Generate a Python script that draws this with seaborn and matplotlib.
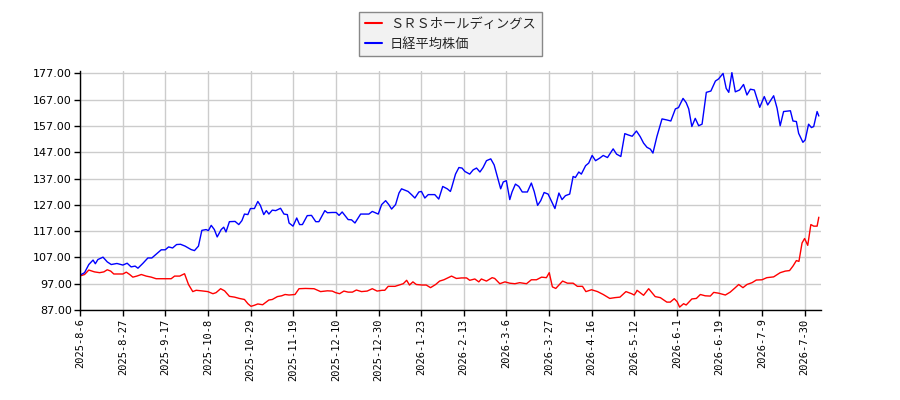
import matplotlib
matplotlib.use("Agg")
import matplotlib.pyplot as plt
import seaborn as sns
import numpy as np

# ── DATA (trading-day index → value, rebased to 100) ─────────
tick_labels = ["2025-8-6", "2025-8-27", "2025-9-17", "2025-10-8", "2025-10-29",
               "2025-11-19", "2025-12-10", "2025-12-30", "2026-1-23", "2026-2-13",
               "2026-3-6", "2026-3-27", "2026-4-16", "2026-5-12", "2026-6-1",
               "2026-6-19", "2026-7-9", "2026-7-30"]
tick_days = list(range(0, 260, 15))

srs_day = [0, 1.5, 3.0, 5.0, 6.8, 8.3, 9.5, 10.7, 11.8, 15.0, 16.2, 17.4, 18.5, 19.9,
           21.5, 23.2, 25.0, 26.7, 29.9, 32.0, 33.2, 35.0, 36.7, 38.1, 39.6, 40.8,
           42.6, 44.9, 46.7, 47.8, 49.4, 50.8, 52.5, 54.3, 56.0, 57.8, 59.0, 60.1,
           61.3, 62.5, 64.2, 65.4, 66.4, 67.6, 69.4, 70.9, 72.1, 73.5, 75.6, 77.0,
           79.3, 82.3, 84.6, 87.0, 88.7, 89.9, 91.3, 92.8, 94.3, 95.8, 97.2, 99.0,
           101.0, 102.8, 104.5, 106.3, 107.2, 108.4, 110.8, 112.2, 113.7, 114.9,
           115.9, 117.1, 118.3, 120.4, 121.8, 123.3, 125.1, 126.5, 128.0, 129.5,
           130.7, 132.4, 134.2, 136.0, 137.1, 138.9, 140.3, 141.2, 143.0, 145.0,
           145.9, 147.7, 149.5, 151.2, 153.0, 154.7, 157.1, 158.8, 160.6, 162.4,
           164.1, 165.1, 166.2, 167.4, 169.8, 171.5, 173.5, 175.0, 176.8, 178.0,
           180.0, 182.1, 184.1, 186.4, 188.2, 190.0, 192.1, 194.1, 195.0, 195.8,
           196.0, 198.3, 200.1, 202.4, 204.2, 206.5, 207.7, 209.1, 210.1, 211.0,
           212.4, 213.3, 215.3, 216.9, 218.3, 220.0, 221.8, 223.0, 224.7, 227.1,
           228.8, 230.6, 231.8, 233.3, 234.7, 236.5, 238.0, 240.0, 241.7, 244.1,
           246.4, 248.2, 249.7, 250.9, 252.1, 253.0, 254.1, 255.0, 256.1, 257.2,
           258.2, 259.4, 260.0]
srs_val = [100.0, 100.5, 102.2, 101.5, 101.2, 101.5, 102.3, 101.8, 100.7, 100.7, 101.4,
           100.5, 99.5, 99.9, 100.5, 99.9, 99.5, 98.9, 98.9, 98.9, 99.9, 99.9, 100.8,
           96.7, 94.0, 94.5, 94.3, 94.0, 93.2, 93.6, 95.1, 94.3, 92.2, 91.9, 91.4,
           91.0, 89.4, 88.4, 88.8, 89.3, 89.0, 90.0, 90.8, 91.0, 92.1, 92.4, 92.9,
           92.7, 92.9, 95.1, 95.2, 95.1, 94.0, 94.3, 94.2, 93.6, 93.2, 94.2, 93.8,
           93.8, 94.6, 94.0, 94.2, 95.1, 94.2, 94.5, 94.5, 96.0, 96.0, 96.5, 97.0,
           98.3, 96.5, 97.7, 96.7, 96.5, 96.5, 95.5, 96.7, 98.0, 98.5, 99.3, 99.9,
           99.0, 99.2, 99.2, 98.3, 98.8, 97.7, 98.8, 98.0, 99.3, 99.0, 97.0, 97.7,
           97.2, 97.0, 97.4, 97.0, 98.5, 98.5, 99.5, 99.3, 101.2, 95.8, 95.2, 98.0,
           97.2, 97.2, 96.0, 96.0, 94.0, 94.7, 94.0, 92.9, 91.4, 91.7, 91.9, 94.0,
           93.2, 92.7, 94.0, 94.5, 92.6, 95.1, 92.1, 91.7, 90.0, 90.0, 91.3, 90.2,
           88.1, 89.4, 88.9, 91.2, 91.4, 92.9, 92.4, 92.3, 93.7, 93.4, 92.7, 93.8,
           95.5, 96.7, 95.5, 96.7, 97.4, 98.4, 98.5, 99.3, 99.6, 101.2, 101.8, 102.0,
           103.7, 105.8, 105.5, 112.5, 114.2, 111.6, 119.5, 118.9, 118.9, 122.3]

nk_day = [0, 1.5, 3.0, 4.5, 5.3, 6.2, 8.0, 9.5, 10.9, 12.9, 15.0, 16.5, 17.9, 19.3,
          20.3, 22.0, 23.8, 25.2, 27.1, 28.5, 29.9, 31.1, 32.5, 33.9, 35.3, 36.9,
          39.0, 40.2, 41.6, 42.8, 44.3, 45.1, 46.1, 47.2, 48.2, 49.6, 50.5, 51.3,
          52.5, 54.5, 55.8, 56.9, 57.8, 59.0, 59.9, 61.3, 62.5, 63.4, 64.6, 65.5,
          66.4, 67.6, 68.8, 70.5, 71.7, 72.9, 73.5, 74.9, 76.2, 77.2, 78.2, 79.9,
          81.4, 82.9, 84.0, 86.1, 87.0, 88.7, 90.1, 91.1, 92.2, 94.3, 95.5, 96.7,
          98.7, 101.6, 102.8, 104.9, 106.1, 107.5, 108.6, 109.6, 111.0, 112.2,
          113.1, 115.4, 116.6, 117.8, 119.2, 120.1, 121.3, 122.5, 124.8, 126.2,
          127.6, 129.2, 130.3, 130.7, 132.1, 133.3, 134.4, 135.4, 137.1, 138.3,
          139.5, 140.7, 141.8, 143.0, 144.5, 145.7, 146.9, 148.0, 148.9, 150.0,
          151.2, 152.0, 153.2, 154.4, 155.6, 157.4, 158.8, 159.8, 161.0, 162.1,
          163.3, 164.7, 165.9, 167.1, 168.5, 169.6, 170.8, 172.3, 173.5, 174.3,
          175.5, 176.4, 177.9, 179.0, 180.2, 181.4, 182.9, 184.1, 185.6, 187.6,
          188.8, 190.3, 191.7, 192.9, 194.3, 195.8, 197.1, 198.3, 199.5, 200.7,
          201.6, 203.0, 204.8, 206.5, 207.9, 209.5, 210.6, 212.2, 213.3, 214.2,
          215.3, 216.5, 217.7, 218.9, 220.4, 222.0, 223.6, 224.7, 226.3, 227.4,
          228.3, 229.4, 230.6, 232.1, 233.5, 234.7, 235.9, 237.3, 239.2, 240.8,
          242.0, 244.1, 245.3, 246.4, 247.6, 250.0, 250.9, 252.1, 252.9, 254.4,
          255.2, 256.4, 257.4, 258.2, 259.4, 260.0]
nk_val = [100.3, 101.2, 104.3, 106.0, 104.6, 106.2, 107.1, 105.3, 104.3, 104.7, 104.1,
          104.8, 103.4, 103.7, 102.9, 104.7, 106.8, 106.8, 108.6, 109.9, 109.9, 111.0,
          110.6, 111.9, 112.0, 111.3, 110.0, 109.6, 111.3, 117.3, 117.6, 117.2, 119.2,
          117.6, 114.8, 117.6, 118.5, 116.7, 120.6, 120.7, 119.5, 121.0, 123.5, 123.3,
          125.6, 125.6, 128.3, 126.8, 123.3, 124.8, 123.5, 125.0, 124.8, 125.7, 123.5,
          123.3, 120.1, 118.9, 122.0, 119.5, 119.5, 122.9, 123.0, 120.6, 120.6, 124.8,
          124.0, 124.1, 124.1, 123.0, 124.3, 121.4, 121.3, 120.1, 123.5, 123.5, 124.5,
          123.5, 127.1, 128.6, 127.1, 125.4, 127.1, 131.5, 133.1, 132.1, 130.9, 129.6,
          131.9, 132.1, 129.6, 130.9, 130.9, 129.2, 134.0, 133.1, 132.1, 133.4, 138.7,
          141.2, 141.0, 139.7, 138.7, 140.3, 141.0, 139.5, 141.2, 143.8, 144.5, 142.2,
          137.4, 133.1, 135.7, 136.2, 129.0, 131.9, 134.9, 134.0, 131.9, 131.9, 135.3,
          132.1, 126.8, 128.6, 131.7, 131.1, 128.3, 125.6, 131.5, 129.0, 130.5, 131.1,
          137.8, 137.4, 139.5, 138.7, 141.9, 142.9, 145.8, 143.8, 144.8, 145.8, 145.0,
          148.3, 146.3, 145.4, 154.1, 153.6, 153.1, 155.1, 153.0, 150.5, 148.9, 148.2,
          146.7, 153.0, 159.7, 159.3, 158.9, 163.5, 164.0, 167.5, 165.9, 163.5, 156.8,
          159.9, 157.1, 157.7, 169.8, 170.3, 174.1, 174.9, 177.0, 171.3, 169.8, 177.3,
          170.0, 170.7, 172.8, 168.8, 171.0, 170.7, 164.1, 168.2, 165.0, 168.5, 163.8,
          157.1, 162.5, 162.8, 158.9, 158.7, 154.2, 150.8, 151.7, 157.7, 156.4, 156.8,
          162.5, 160.8]

# ── STYLE ────────────────────────────────────────────────────
sns.set_style("whitegrid")
plt.rcParams['font.family'] = ['Noto Sans CJK JP', 'DejaVu Sans']

fig = plt.figure(figsize=(9, 4), dpi=100)
ax = fig.add_axes([0.0892, 0.225, 0.8228, 0.598])

sns.lineplot(x=srs_day, y=srs_val, ax=ax, color="#ff0000", linewidth=1,
             label="ＳＲＳホールディングス", sort=False)
sns.lineplot(x=nk_day, y=nk_val, ax=ax, color="#0000ff", linewidth=1,
             label="日経平均株価", sort=False)

ax.set_xlim(0, 260.7)
ax.set_ylim(87, 178)
ax.set_yticks(np.arange(87, 178, 10))
ax.set_yticklabels([f"{v:.2f}" for v in np.arange(87, 178, 10)],
                   fontsize=8, family=['DejaVu Sans'])
ax.set_xticks(tick_days)
ax.set_xticklabels(tick_labels, rotation=90, fontsize=7.5,
                   family=['DejaVu Sans Mono'])
ax.set_xlabel("")
ax.set_ylabel("")

ax.grid(True, color="#cccccc", linewidth=1)
for side in ("top", "right"):
    ax.spines[side].set_visible(False)
for side in ("left", "bottom"):
    ax.spines[side].set_color("black")
    ax.spines[side].set_linewidth(1)
ax.tick_params(axis="both", direction="out", length=4, width=1,
               color="black", labelcolor="black", pad=2,
               left=True, bottom=True)

leg = ax.legend(loc="upper center", bbox_to_anchor=(0.5005, 0.97),
                bbox_transform=fig.transFigure, fontsize=9.5, frameon=True,
                fancybox=False, handlelength=1.3, handletextpad=0.6,
                borderpad=0.45, labelspacing=0.5, borderaxespad=0)
leg.get_frame().set_facecolor("#f2f2f2")
leg.get_frame().set_edgecolor("#888888")
leg.get_frame().set_linewidth(1)
leg.get_frame().set_alpha(1)
for line in leg.get_lines():
    line.set_linewidth(1.5)

fig.savefig("out.png", dpi=100)
